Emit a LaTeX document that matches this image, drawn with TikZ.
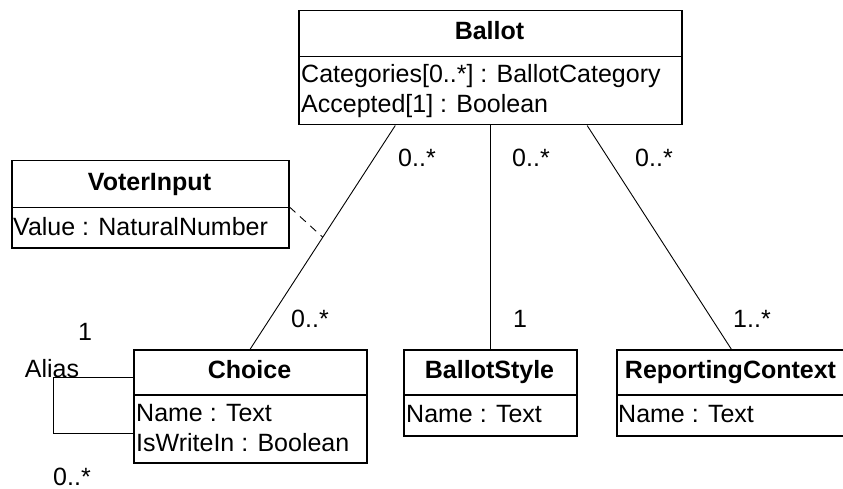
\documentclass[tikz,border=0pt]{standalone}
\usepackage{fontspec}
\setmainfont{Liberation Sans}
\usetikzlibrary{calc}
\begin{document}
\begin{tikzpicture}[x=1pt,y=-1pt,
  box/.style={draw, line width=1.5pt, inner sep=0pt, anchor=north west},
  txt/.style={inner sep=0pt, font=\fontsize{25}{30}\selectfont},
  hdr/.style={inner sep=0pt, anchor=base, font=\fontsize{25}{30}\selectfont\bfseries},
  attr/.style={txt, anchor=base west},
  mult/.style={txt, anchor=base},
  assoc/.style={line width=0.9pt},
  dep/.style={line width=0.9pt, dash pattern=on 8pt off 6pt}]
\useasboundingbox (0,0) rectangle (843,489);

% Ballot
\node[box, minimum width=383pt, minimum height=46pt] (ballot) at (298,10) {};
\node[box, minimum width=383pt, minimum height=68pt] (ballotbody) at (298,56) {};
\node[hdr] (ballotT) at (489.5,40) {Ballot};
\node[attr] (ballotA1) at (301,83) {Categories[0..*] : BallotCategory};
\node[attr] (ballotA2) at (301,113) {Accepted[1] : Boolean};

% VoterInput
\node[box, minimum width=277pt, minimum height=47pt] (voter) at (11,160) {};
\node[box, minimum width=277pt, minimum height=40pt] (voterbody) at (11,207) {};
\node[hdr] (voterT) at (149.5,191) {VoterInput};
\node[attr] (voterA1) at (13,236) {Value : NaturalNumber};

% Choice
\node[box, minimum width=233pt, minimum height=45pt] (choice) at (133,349) {};
\node[box, minimum width=233pt, minimum height=68pt] (choicebody) at (133,394) {};
\node[hdr] (choiceT) at (249.5,378) {Choice};
\node[attr] (choiceA1) at (136,421) {Name : Text};
\node[attr] (choiceA2) at (136,451) {IsWriteIn : Boolean};

% BallotStyle
\node[box, minimum width=173pt, minimum height=45pt] (style) at (403,349) {};
\node[box, minimum width=173pt, minimum height=41pt] (stylebody) at (403,394) {};
\node[hdr] (styleT) at (489.5,378) {BallotStyle};
\node[attr] (styleA1) at (406,422) {Name : Text};

% ReportingContext (right edge lies beyond the picture)
\node[box, minimum width=240pt, minimum height=45pt] (rc) at (616,349) {};
\node[box, minimum width=240pt, minimum height=41pt] (rcbody) at (616,394) {};
\node[hdr] (rcT) at (730.5,378) {ReportingContext};
\node[attr] (rcA1) at (618,422) {Name : Text};

% associations
\draw[assoc] ($(ballotbody.south west)!0.253!(ballotbody.south east)$) -- coordinate[pos=0.5] (mid) (choice.north);
\draw[assoc] (ballotbody.south) -- (style.north);
\draw[assoc] ($(ballotbody.south west)!0.752!(ballotbody.south east)$) -- ($(rc.north west)!0.477!(rc.north east)$);
\draw[dep] (voterbody.north east) -- (mid);

% self association
\coordinate (loopA) at (53,377);
\coordinate (loopB) at (53,433);
\draw[assoc] (choice.west |- loopA) -- (loopA) -- (loopB) -- (choicebody.west |- loopB);

% multiplicities
\node[mult] (m1) at (417,167) {0..*};
\node[mult] (m2) at (531,167) {0..*};
\node[mult] (m3) at (654,167) {0..*};
\node[mult] (m4) at (310,327) {0..*};
\node[mult] (m5) at (520,327) {1};
\node[mult] (m6) at (752,327) {1..*};
\node[mult] (m7) at (85,340) {1};
\node[mult] (alias) at (52,377) {Alias};
\node[mult] (m8) at (72,485) {0..*};
\end{tikzpicture}
\end{document}
